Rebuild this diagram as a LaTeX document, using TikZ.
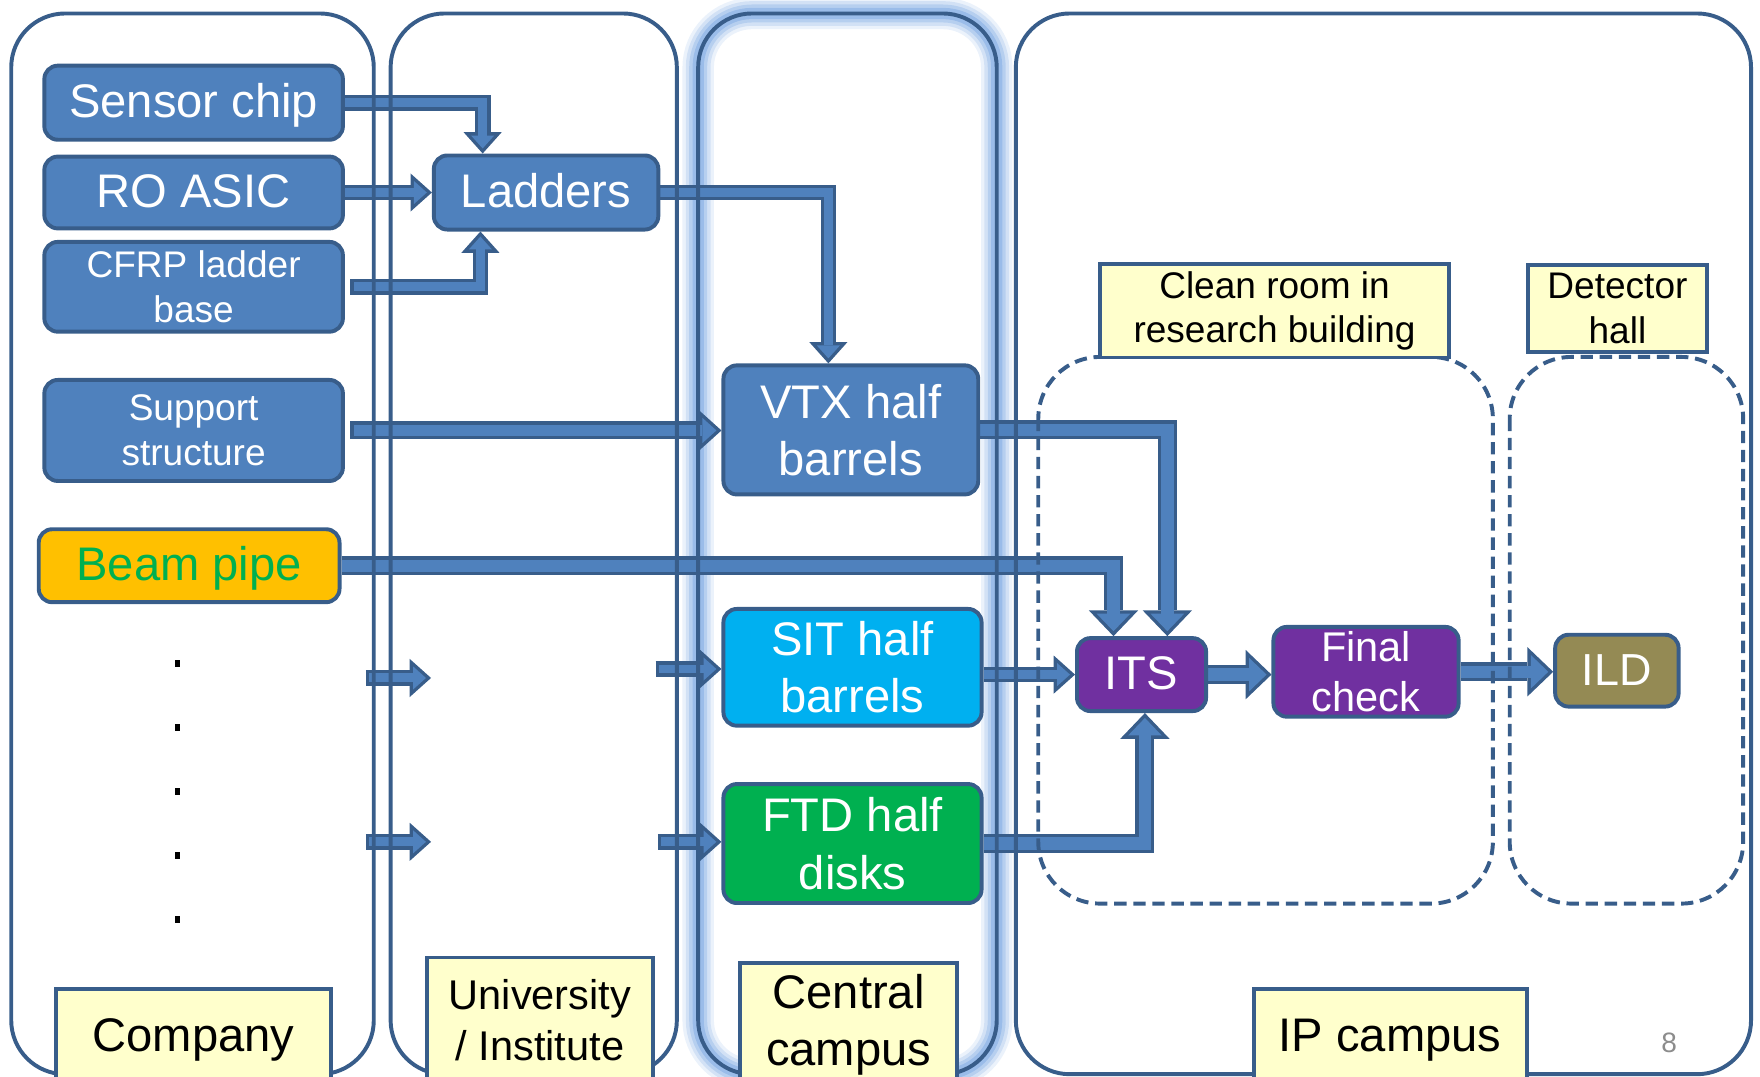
\documentclass[tikz,border=0pt]{standalone}
\usepackage{fontspec}
\setmainfont{Liberation Sans}
\usetikzlibrary{arrows.meta}

\definecolor{edge}{HTML}{385D8A}
\definecolor{boxblue}{HTML}{4F81BD}
\definecolor{sitblue}{HTML}{00B0F0}
\definecolor{ftdgreen}{HTML}{00B050}
\definecolor{pipeorange}{HTML}{FFC000}
\definecolor{itspurple}{HTML}{7030A0}
\definecolor{ildolive}{HTML}{948A54}
\definecolor{placeyellow}{HTML}{FFFFCC}
\definecolor{glowblue}{HTML}{6FA0E0}
\definecolor{pagegray}{HTML}{8C8C8C}

\pgfdeclarelayer{glow}
\pgfdeclarelayer{flowlayer}
\pgfdeclarelayer{frames}
\pgfsetlayers{glow,flowlayer,frames,main}

\tikzset{
  stage/.style={draw=edge, line width=3.5pt, rounded corners=12pt, inner sep=0pt,
    text=white, align=center},
  placebox/.style={draw=edge, line width=3.5pt, fill=placeyellow, inner sep=0pt,
    align=center, text=black},
  oneline/.style={text height=30pt, text depth=3pt},
  lane/.style={draw=edge, line width=3.5pt, rounded corners=48pt},
  roomzone/.style={draw=edge, line width=3.5pt, rounded corners=55pt,
    dash pattern=on 11pt off 6pt},
  big/.style={font=\fontsize{42}{51}\selectfont},
  mid/.style={font=\fontsize{37}{45}\selectfont},
  small/.style={font=\fontsize{33}{40}\selectfont},
  % block arrows: dark outline pass, then lighter fill pass
  thinout/.style={draw=edge, line width=14pt,
    -{Triangle[length=19pt,width=34pt,line width=0pt]}},
  thinin/.style={draw=boxblue, line width=8pt, shorten >=4.5pt,
    -{Triangle[length=11.5pt,width=20.6pt,line width=0pt]}},
  midout/.style={draw=edge, line width=16pt,
    -{Triangle[length=20pt,width=36pt,line width=0pt]}},
  midin/.style={draw=boxblue, line width=10pt, shorten >=4.5pt,
    -{Triangle[length=12.5pt,width=22.5pt,line width=0pt]}},
  wideout/.style={draw=edge, line width=17pt,
    -{Triangle[length=23pt,width=44pt,line width=0pt]}},
  widein/.style={draw=boxblue, line width=11pt, shorten >=4.4pt,
    -{Triangle[length=15.6pt,width=30pt,line width=0pt]}},
}
% #1 size, #2 extra outline options, #3 extra fill options, #4 path
\newcommand\flow[4]{\draw[#1out,#2] #4; \draw[#1in,#3] #4;}

\begin{document}
\begin{tikzpicture}[x=1pt,y=-1pt]
\useasboundingbox (0,0) rectangle (1568,959);

% ---- process steps ----
\node[stage, big, oneline, fill=boxblue, minimum width=266pt, minimum height=66pt] (sensor) at (172.5,91.5) {Sensor chip};
\node[stage, big, oneline, fill=boxblue, minimum width=266pt, minimum height=64pt] (roasic) at (172.5,171.5) {RO ASIC};
\node[stage, small, fill=boxblue, minimum width=266pt, minimum height=80pt] (cfrp) at (172.5,255.5) {CFRP ladder\\base};
\node[stage, big, oneline, fill=boxblue, minimum width=200pt, minimum height=66pt] (ladders) at (486.5,171.5) {Ladders};
\node[stage, small, fill=boxblue, minimum width=266pt, minimum height=90pt] (support) at (172.5,383.5) {Support\\structure};
\node[stage, big, oneline, fill=pipeorange, text=ftdgreen, minimum width=268pt, minimum height=65pt] (beam) at (168.5,504) {Beam pipe};
\node[stage, big, fill=boxblue, minimum width=227pt, minimum height=115pt] (vtx) at (758,383) {VTX half\\barrels};
\node[stage, big, fill=sitblue, minimum width=230pt, minimum height=104pt] (sit) at (759.5,594.5) {SIT half\\barrels};
\node[stage, big, fill=ftdgreen, minimum width=230pt, minimum height=106pt] (ftd) at (759.5,751.5) {FTD half\\disks};
\node[stage, big, oneline, fill=itspurple, minimum width=115pt, minimum height=65pt] (its) at (1017,601) {ITS};
\node[stage, mid, fill=itspurple, minimum width=165pt, minimum height=80pt] (final) at (1217,598.5) {Final\\check};
\node[stage, font=\fontsize{40}{48}\selectfont, text height=29pt, text depth=3pt, fill=ildolive, minimum width=110pt, minimum height=64pt] (ild) at (1440.5,597.5) {ILD};

% ---- place labels ----
\node[placebox, big, oneline, minimum width=245pt, minimum height=84pt] (company) at (172.5,923) {Company};
\node[placebox, mid, minimum width=202pt, minimum height=112pt] (univ) at (481,909) {University\\/ Institute};
\node[placebox, big, minimum width=194pt, minimum height=110pt] (central) at (756,913) {Central\\campus};
\node[placebox, big, oneline, minimum width=243pt, minimum height=84pt] (ipcampus) at (1238.5,923) {IP campus};
\node[placebox, small, minimum width=311pt, minimum height=83pt] (cleanroom) at (1135.5,277) {Clean room in\\research building};
\node[placebox, small, minimum width=160pt, minimum height=78pt] (dethall) at (1441,275) {Detector\\hall};

\node[text=pagegray, font=\fontsize{25}{30}\selectfont, inner sep=0pt] (page) at (1487,929) {8};

% more components, continued
\foreach \y in {588,645,702,759,816}
  \fill (155.5,\y) rectangle +(5,6);

% ---- glow around the central campus lane ----
\begin{pgfonlayer}{glow}
  \foreach \w/\o in {28/0.14,22/0.2,16/0.28,10/0.4}
    \draw[glowblue, opacity=\o, line width=\w pt, rounded corners=48pt] (622,12) rectangle (888,957);
\end{pgfonlayer}

% ---- lanes and rooms ----
\begin{pgfonlayer}{frames}
  \draw[lane] (10,12) rectangle (333,957);
  \draw[lane] (348,12) rectangle (603,957);
  \draw[lane] (622,12) rectangle (888,957);
  \draw[lane] (905,12) rectangle (1560,957);
  \draw[roomzone] (925,318) rectangle (1330,805);
  \draw[roomzone] (1345,318) rectangle (1553,805);
\end{pgfonlayer}

% ---- flow of parts ----
\coordinate (pa) at (326,604);
\coordinate (pb) at (384,604);
\coordinate (qa) at (326,750);
\coordinate (qb) at (384,750);
\coordinate (ua) at (584,596);
\coordinate (ub) at (586,750);

\begin{pgfonlayer}{flowlayer}
  \flow{thin}{}{}{(sensor.east) -| ([xshift=-56.5pt]ladders.north)}
  \flow{thin}{}{}{(roasic.east) -- (ladders.west)}
  \flow{thin}{shorten <=5pt}{shorten <=8pt}{(cfrp.east) -| ([xshift=-58.5pt]ladders.south)}
  \flow{thin}{}{}{(ladders.east) -| ([xshift=-20pt]vtx.north)}
  \flow{mid}{shorten <=5pt}{shorten <=8pt}{(support.east) -- (support.east -| vtx.west)}
  \flow{wide}{}{}{(beam.east) -| ([xshift=-25pt]its.north)}
  \flow{wide}{}{}{(vtx.east) -| ([xshift=23pt]its.north)}
  \flow{thin}{}{}{(sit.east |- its.west) -- (its.west)}
  \flow{wide}{}{}{(ftd.east) -| ([xshift=3pt]its.south)}
  \flow{wide}{}{}{(its.east) -- (its.east -| final.west)}
  \flow{wide}{}{}{(final.east) -- (final.east -| ild.west)}
  \flow{thin}{}{shorten <=3pt}{(pa) -- (pb)}
  \flow{thin}{}{shorten <=3pt}{(qa) -- (qb)}
  \flow{thin}{}{shorten <=3pt}{(ua) -- (ua -| sit.west)}
  \flow{thin}{}{shorten <=3pt}{(ub) -- (ub -| ftd.west)}
\end{pgfonlayer}
\end{tikzpicture}
\end{document}
